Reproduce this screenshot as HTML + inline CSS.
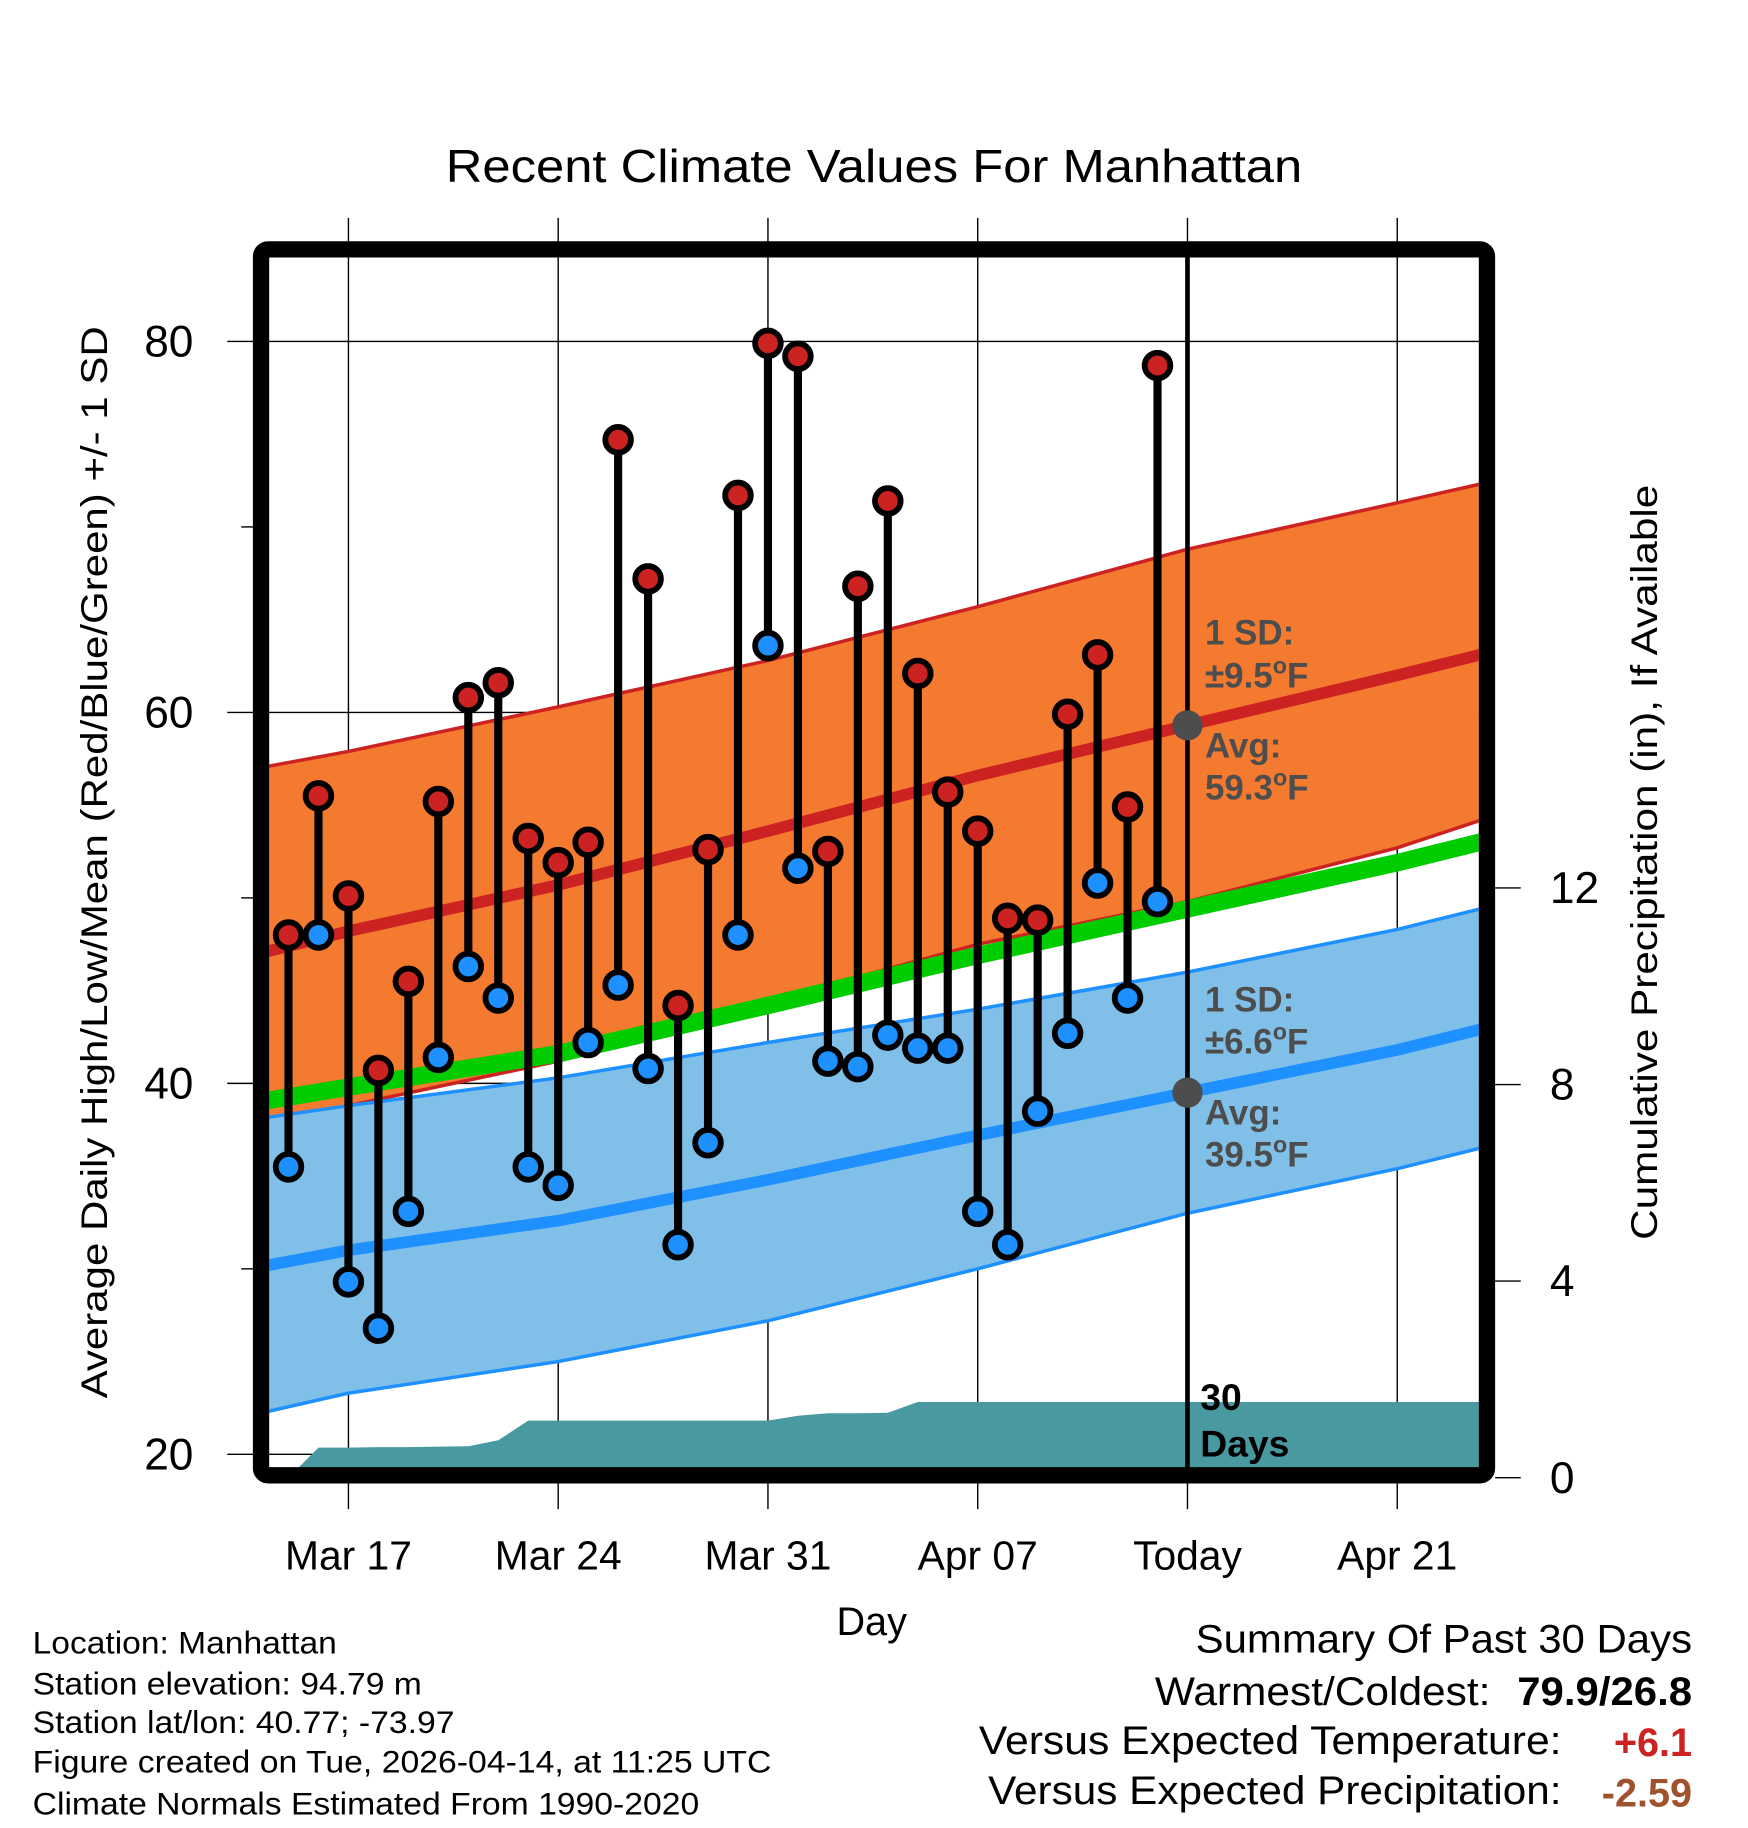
<!DOCTYPE html>
<html><head><meta charset="utf-8"><style>html,body{margin:0;padding:0;background:#fff}svg{display:block}text{font-family:"Liberation Sans",sans-serif}</style></head>
<body>
<svg id="chart" xmlns="http://www.w3.org/2000/svg" width="1748" height="1828" viewBox="0 0 1500 1568.65">
<defs><clipPath id="plotclip"><rect x="231" y="221" width="1038" height="1039"/></clipPath></defs>
<rect x="0" y="0" width="1500" height="1569" fill="#fff"/>
<text x="750" y="156" font-size="40" text-anchor="middle" textLength="735" lengthAdjust="spacingAndGlyphs">Recent Climate Values For Manhattan</text>
<g id="grid"></g>
<g id="plot" clip-path="url(#plotclip)"></g>
<g id="marks"></g>
<rect x="224" y="214" width="1052" height="1052" rx="6" fill="none" stroke="#000" stroke-width="14"/>
<g id="axes"></g>
<text transform="translate(92,740) rotate(-90)" font-size="32" text-anchor="middle" textLength="920" lengthAdjust="spacingAndGlyphs">Average Daily High/Low/Mean (Red/Blue/Green) +/- 1 SD</text>
<text transform="translate(1422,740) rotate(-90)" font-size="32" text-anchor="middle" textLength="648" lengthAdjust="spacingAndGlyphs">Cumulative Precipitation (in), If Available</text>
<text x="748" y="1403" font-size="34" text-anchor="middle">Day</text>
<g font-size="27">
<text x="28" y="1419" textLength="261" lengthAdjust="spacingAndGlyphs">Location: Manhattan</text>
<text x="28" y="1454" textLength="334" lengthAdjust="spacingAndGlyphs">Station elevation: 94.79 m</text>
<text x="28" y="1487" textLength="362" lengthAdjust="spacingAndGlyphs">Station lat/lon: 40.77; -73.97</text>
<text x="28" y="1521" textLength="634" lengthAdjust="spacingAndGlyphs">Figure created on Tue, 2026-04-14, at 11:25 UTC</text>
<text x="28" y="1557" textLength="572" lengthAdjust="spacingAndGlyphs">Climate Normals Estimated From 1990-2020</text>
</g>
<g font-size="34">
<text x="1452" y="1418" text-anchor="end" textLength="426" lengthAdjust="spacingAndGlyphs">Summary Of Past 30 Days</text>
<text x="1279" y="1463" text-anchor="end" textLength="288" lengthAdjust="spacingAndGlyphs">Warmest/Coldest:</text>
<text x="1452" y="1463" text-anchor="end" font-weight="bold" textLength="150" lengthAdjust="spacingAndGlyphs">79.9/26.8</text>
<text x="1340" y="1505" text-anchor="end" textLength="500" lengthAdjust="spacingAndGlyphs">Versus Expected Temperature:</text>
<text x="1452" y="1507" text-anchor="end" font-weight="bold" fill="#cc2222">+6.1</text>
<text x="1340" y="1548" text-anchor="end" textLength="492" lengthAdjust="spacingAndGlyphs">Versus Expected Precipitation:</text>
<text x="1452" y="1550" text-anchor="end" font-weight="bold" fill="#a0522d">-2.59</text>
</g>
<script>
// ---- data ----
const obsDays = [-2,-1,0,1,2,3,4,5,6,7,8,9,10,11,12,13,14,15,16,17,18,19,20,21,22,23,24,25,26,27];
const highs = [48.0,55.5,50.1,40.7,45.5,55.2,60.8,61.6,53.2,51.9,53.0,74.7,67.2,44.2,52.6,71.7,79.9,79.2,52.5,66.8,71.4,62.1,55.7,53.6,48.9,48.8,59.9,63.1,54.9,78.7];
const lows = [35.5,48.0,29.3,26.8,33.1,41.4,46.3,44.6,35.5,34.5,42.2,45.3,40.8,31.3,36.8,48.0,63.6,51.6,41.2,40.9,42.6,41.9,41.9,33.1,31.3,38.5,42.7,50.8,44.6,49.8];
const precipCum = [0,0.61,0.61,0.62,0.62,0.63,0.64,0.76,1.16,1.16,1.16,1.16,1.16,1.16,1.16,1.16,1.16,1.26,1.31,1.31,1.32,1.54,1.54,1.54,1.54,1.54,1.54,1.54,1.54,1.54];
const normDays = [-3,0,7,14,21,28,35,38];
const normHighMean = [47.0,48.2,50.7,53.6,56.6,59.3,62.0,63.2];
const normHighUpper = [57.0,57.9,60.3,62.8,65.7,68.8,71.3,72.4];
const normHighLower = [38.0,38.8,41.2,44.4,47.5,49.8,52.7,54.3];
const normLowMean = [30.1,31.0,32.6,34.8,37.2,39.5,41.8,43.0];
const normLowUpper = [38.1,38.8,40.3,42.2,44.0,46.0,48.3,49.5];
const normLowLower = [22.2,23.3,25.0,27.2,30.0,33.0,35.4,36.6];
const normAvg = [39.0,39.8,41.6,44.2,46.9,49.4,51.9,53.1];
const xTickDays = [0,7,14,21,28,35];
const xTickLabels = ["Mar 17","Mar 24","Mar 31","Apr 07","Today","Apr 21"];
const yTicks = [20,40,60,80];
const yMinorTicks = [30,50,70];
const y2Ticks = [0,4,8,12];
const todayDay = 28;
const todayHighAvg = 59.3, todayLowAvg = 39.5;

// ---- scales ----
const X = d => 299 + d*180/7;
const Y = t => 1248 - (t-20)*(1248-293)/60;
const Y2 = p => 1268 - p*(1268-762)/12;
const NS = "http://www.w3.org/2000/svg";
function mk(tag, attrs, parent){const e=document.createElementNS(NS,tag);for(const k in attrs)e.setAttribute(k,attrs[k]);parent.appendChild(e);return e;}
const grid=document.getElementById('grid'), plot=document.getElementById('plot'), marks=document.getElementById('marks'), axes=document.getElementById('axes');

xTickDays.forEach((d,i)=>{
  const l=mk('line',{x1:X(d),x2:X(d),y1:187,y2:1295,stroke:'#000','stroke-width':1.2},grid);
  
  
  const t=mk('text',{x:X(d),y:1347,'font-size':35,'text-anchor':'middle'},axes);
  t.textContent=xTickLabels[i];
  
  
});
yTicks.forEach(v=>{
  const l=mk('line',{x1:195,x2:1269,y1:Y(v),y2:Y(v),stroke:'#000','stroke-width':1.2},grid);
  
  
  const t=mk('text',{x:166,y:Y(v)+13,'font-size':38,'text-anchor':'end'},axes);
  t.textContent=v;
  
  
});
yMinorTicks.forEach(v=>{
  const l=mk('line',{x1:207,x2:218,y1:Y(v),y2:Y(v),stroke:'#000','stroke-width':1.2},axes);
  
  
});
y2Ticks.forEach(v=>{
  const l=mk('line',{x1:1283,x2:1305,y1:Y2(v),y2:Y2(v),stroke:'#000','stroke-width':1.2},axes);
  
  
  const t=mk('text',{x:1330,y:Y2(v)+13,'font-size':38},axes);
  t.textContent=v;
  
  
});

function pts(days, vals){return days.map((d,i)=>X(d).toFixed(1)+','+Y(vals[i]).toFixed(1));}
function band(up, lo, fill, edge, name){
  const p=mk('polygon',{points:pts(normDays,up).concat(pts(normDays,lo).reverse()).join(' '),fill:fill},plot);
  
  
  [up,lo].forEach(a=>{const l=mk('polyline',{points:pts(normDays,a).join(' '),fill:'none',stroke:edge,'stroke-width':3},plot);
    
    });
}
band(normHighUpper,normHighLower,'#f47a30','#cc2222','high-sd-band');
band(normLowUpper,normLowLower,'#80c0e8','#1e90ff','low-sd-band');
function line(vals,color,w,name){const l=mk('polyline',{points:pts(normDays,vals).join(' '),fill:'none',stroke:color,'stroke-width':w},plot);
  
  }
line(normAvg,'#00cc00',15,'normal-mean-line');
line(normHighMean,'#cc2222',10,'normal-high-line');
line(normLowMean,'#1e90ff',10,'normal-low-line');

(function(){
  let p=[X(obsDays[0])+','+Y2(0)];
  obsDays.forEach((d,i)=>p.push(X(d)+','+Y2(precipCum[i])));
  p.push(1275+','+Y2(precipCum[precipCum.length-1]));
  p.push(1275+','+Y2(-0.5));
  p.push(X(obsDays[0])+','+Y2(-0.5));
  const a=mk('polygon',{points:p.join(' '),fill:'#4899a0'},plot);
  
  
})();

(function(){
  const l=mk('line',{x1:X(todayDay),x2:X(todayDay),y1:221,y2:1262,stroke:'#000','stroke-width':4},plot);
  
  
  [todayHighAvg,todayLowAvg].forEach(v=>{const c=mk('circle',{cx:X(todayDay),cy:Y(v),r:13,fill:'#4d4d4d'},plot);
    
    });
})();

function ann(x,y,txt,fill,size,name,withDeg){
  const t=mk('text',{x:x,y:y,'font-size':size,'font-weight':'bold',fill:fill},plot);
  t.appendChild(document.createTextNode(txt));
  if(withDeg){
    const s1=mk('tspan',{dy:-12,'font-size':20},t); s1.textContent='o';
    const s2=mk('tspan',{dy:12},t); s2.textContent='F';
  }
  
  
}
ann(1034,553,'1 SD:','#4d4d4d',30,'high-sd-label',false);
ann(1034,590,'±9.5','#4d4d4d',30,'high-sd-value',true);
ann(1034,650,'Avg:','#4d4d4d',30,'high-avg-label',false);
ann(1034,686,'59.3','#4d4d4d',30,'high-avg-value',true);
ann(1034,868,'1 SD:','#4d4d4d',30,'low-sd-label',false);
ann(1034,904,'±6.6','#4d4d4d',30,'low-sd-value',true);
ann(1034,965,'Avg:','#4d4d4d',30,'low-avg-label',false);
ann(1034,1001,'39.5','#4d4d4d',30,'low-avg-value',true);
ann(1030,1210,'30','#000',32,'days-count-label',false);
ann(1030,1250,'Days','#000',32,'days-word-label',false);

obsDays.forEach((d,i)=>{
  const x=X(d);
  const s=mk('line',{x1:x,x2:x,y1:Y(highs[i]),y2:Y(lows[i]),stroke:'#000','stroke-width':7},marks);
  
  
  const h=mk('circle',{cx:x,cy:Y(highs[i]),r:11,fill:'#cc2222',stroke:'#000','stroke-width':5},marks);
  
  
  const l=mk('circle',{cx:x,cy:Y(lows[i]),r:11,fill:'#1e90ff',stroke:'#000','stroke-width':5},marks);
  
  
});
</script>
</svg>
</body></html>
